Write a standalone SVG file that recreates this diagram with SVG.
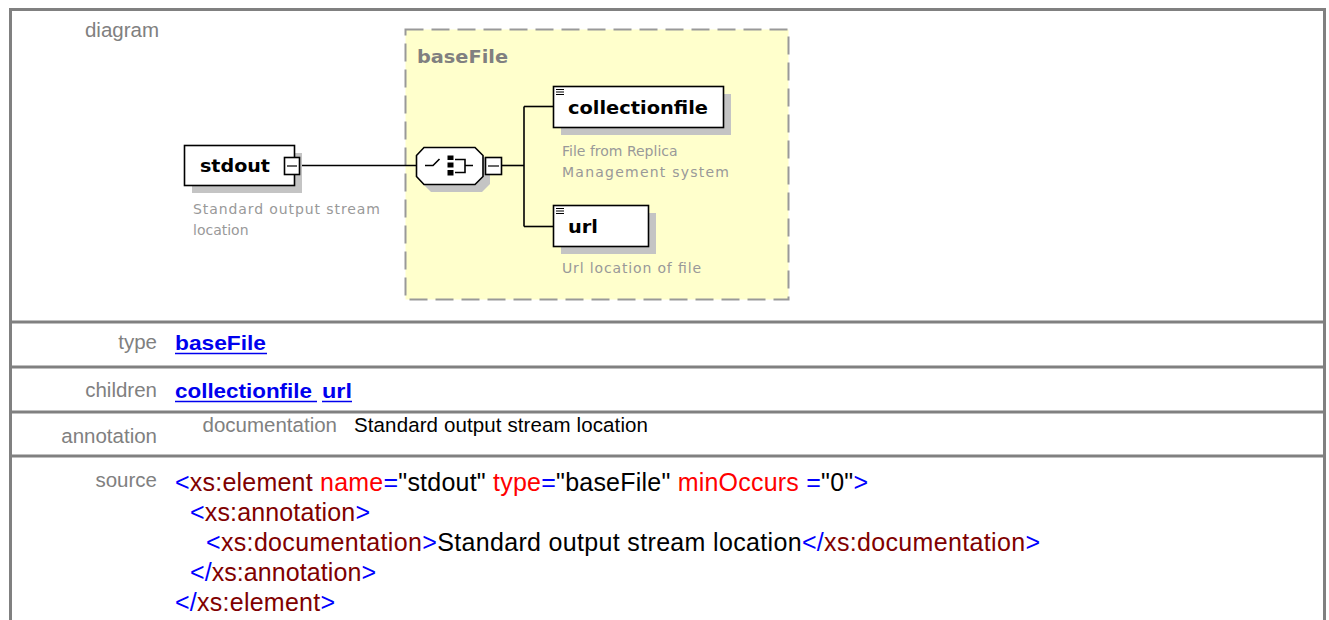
<svg xmlns="http://www.w3.org/2000/svg" width="1329" height="620" viewBox="0 0 1329 620">
<style>
.lbl{font-family:"Liberation Sans",Arial,sans-serif;font-size:20.5px;fill:#808080;text-anchor:end}
.box{fill:#fff;stroke:#000;stroke-width:1.6}
.shd{fill:#c4c4c4}
.name{font-family:"DejaVu Sans","Liberation Sans",sans-serif;font-size:18.5px;font-weight:bold;fill:#000}
.desc{font-family:"DejaVu Sans","Liberation Sans",sans-serif;font-size:14px;fill:#999}
.conn{stroke:#000;stroke-width:1.6;fill:none}
.link{font-family:"Liberation Sans",Arial,sans-serif;font-size:21px;font-weight:bold;fill:#0000ee}
.ul{stroke:#0000ee;stroke-width:1.5}
.code{font-family:"Liberation Sans",Arial,sans-serif;font-size:25px}
.b{fill:#0000ff}.m{fill:#800000}.r{fill:#ff0000}.k{fill:#000}
.sep{stroke:#808080;stroke-width:3}
</style>
<rect width="1329" height="620" fill="#fff"/>
<!-- table frame -->
<g id="frame">
<path d="M10.5 630 V9.5 H1324.5 V630" fill="none" stroke="#808080" stroke-width="3"/>
<line class="sep" x1="9" y1="322" x2="1325" y2="322"/>
<line class="sep" x1="9" y1="367" x2="1325" y2="367"/>
<line class="sep" x1="9" y1="412" x2="1325" y2="412"/>
<line class="sep" x1="9" y1="456" x2="1325" y2="456"/>
</g>
<text class="lbl" x="159" y="37">diagram</text>
<!-- baseFile complex type area -->
<g id="baseFile">
<rect x="405.5" y="29.5" width="383" height="270" fill="#ffffcc" stroke="#999" stroke-width="2" stroke-dasharray="18,8"/>
<text x="417" y="63" font-family="DejaVu Sans,Liberation Sans,sans-serif" font-size="17" font-weight="bold" fill="#808080" textLength="91" lengthAdjust="spacingAndGlyphs">baseFile</text>
</g>
<!-- connectors -->
<g id="connectors">
<line class="conn" x1="300" y1="165.5" x2="416" y2="165.5"/>
<line class="conn" x1="502" y1="165.5" x2="524" y2="165.5"/>
<line class="conn" x1="524" y1="106.5" x2="524" y2="226.5"/>
<line class="conn" x1="524" y1="106.5" x2="553" y2="106.5"/>
<line class="conn" x1="524" y1="226.5" x2="553" y2="226.5"/>
</g>
<!-- stdout -->
<g id="stdout">
<rect class="shd" x="192" y="153" width="110" height="40"/>
<rect class="box" x="184.5" y="145.5" width="110" height="40"/>
<text class="name" x="200" y="172" textLength="70" lengthAdjust="spacingAndGlyphs">stdout</text>
<rect class="box" x="284.5" y="157.5" width="15" height="17" stroke-width="1.2"/>
<line x1="287" y1="166" x2="297" y2="166" stroke="#000" stroke-width="1.2"/>
<text class="desc" x="193" y="214" textLength="187">Standard output stream</text>
<text class="desc" x="193" y="235">location</text>
</g>
<!-- sequence compositor -->
<g id="sequence">
<polygon class="shd" points="431,155 482,155 490,163 490,184 482,192 431,192 423,184 423,163"/>
<polygon class="box" points="424,147.5 475,147.5 483,155.5 483,176.5 475,184.5 424,184.5 416.5,176.5 416.5,155.5"/>
<path d="M425 165.5 H433 L439.5 159" class="conn" stroke-width="1.4"/>
<rect x="447.5" y="155.5" width="6" height="4.5" fill="#000"/>
<rect x="447.5" y="162.5" width="6" height="5" fill="#000"/>
<rect x="447.5" y="170" width="6" height="5.5" fill="#000"/>
<path d="M455 159.5 H465 V172.5 H455 M465 165.5 H473" class="conn" stroke-width="1.4"/>
<rect class="box" x="485.5" y="157.5" width="16" height="17" stroke-width="1.2"/>
<line x1="488" y1="166" x2="499" y2="166" stroke="#000" stroke-width="1.2"/>
</g>
<!-- collectionfile -->
<g id="collectionfile">
<rect class="shd" x="561" y="94" width="170" height="41"/>
<rect class="box" x="553.5" y="86.5" width="170" height="41"/>
<path d="M556 89.5 H564 M556 92 H564 M556 94.5 H564" stroke="#000" stroke-width="1.1"/>
<text class="name" x="568" y="114" textLength="140" lengthAdjust="spacingAndGlyphs">collectionfile</text>
<text class="desc" x="562" y="156">File from Replica</text>
<text class="desc" x="562" y="177" textLength="167">Management system</text>
</g>
<!-- url -->
<g id="url">
<rect class="shd" x="561" y="213" width="95" height="41"/>
<rect class="box" x="553.5" y="205.5" width="95" height="41"/>
<path d="M556 208.5 H564 M556 211 H564 M556 213.5 H564" stroke="#000" stroke-width="1.1"/>
<text class="name" x="568" y="233" textLength="30" lengthAdjust="spacingAndGlyphs">url</text>
<text class="desc" x="562" y="273" textLength="139">Url location of file</text>
</g>
<!-- rows -->
<text class="lbl" x="157" y="349">type</text>
<text class="link" x="175" y="350" textLength="91" lengthAdjust="spacingAndGlyphs">baseFile</text>
<line class="ul" x1="175" y1="353.5" x2="267" y2="353.5"/>
<text class="lbl" x="157" y="397">children</text>
<text class="link" x="175" y="398" textLength="137" lengthAdjust="spacingAndGlyphs">collectionfile</text>
<line class="ul" x1="175" y1="401.5" x2="317" y2="401.5"/>
<text class="link" x="322" y="398" textLength="30" lengthAdjust="spacingAndGlyphs">url</text>
<line class="ul" x1="322" y1="401.5" x2="352" y2="401.5"/>
<text class="lbl" x="157" y="443">annotation</text>
<text class="lbl" x="337" y="432">documentation</text>
<text x="354" y="432" font-family="Liberation Sans,Arial,sans-serif" font-size="20.5" fill="#000" textLength="294">Standard output stream location</text>
<text class="lbl" x="157" y="487">source</text>
<text class="code" x="175" y="491" textLength="693"><tspan class="b">&lt;</tspan><tspan class="m">xs:element</tspan><tspan class="r"> name</tspan><tspan class="b">=</tspan><tspan class="k">"stdout"</tspan><tspan class="r"> type</tspan><tspan class="b">=</tspan><tspan class="k">"baseFile"</tspan><tspan class="r"> minOccurs</tspan><tspan class="b"> =</tspan><tspan class="k">"0"</tspan><tspan class="b">&gt;</tspan></text>
<text class="code" x="190" y="521" textLength="180"><tspan class="b">&lt;</tspan><tspan class="m">xs:annotation</tspan><tspan class="b">&gt;</tspan></text>
<text class="code" x="206" y="551" textLength="834"><tspan class="b">&lt;</tspan><tspan class="m">xs:documentation</tspan><tspan class="b">&gt;</tspan><tspan class="k">Standard output stream location</tspan><tspan class="b">&lt;/</tspan><tspan class="m">xs:documentation</tspan><tspan class="b">&gt;</tspan></text>
<text class="code" x="190" y="581" textLength="186"><tspan class="b">&lt;/</tspan><tspan class="m">xs:annotation</tspan><tspan class="b">&gt;</tspan></text>
<text class="code" x="175" y="611" textLength="160"><tspan class="b">&lt;/</tspan><tspan class="m">xs:element</tspan><tspan class="b">&gt;</tspan></text>
</svg>
